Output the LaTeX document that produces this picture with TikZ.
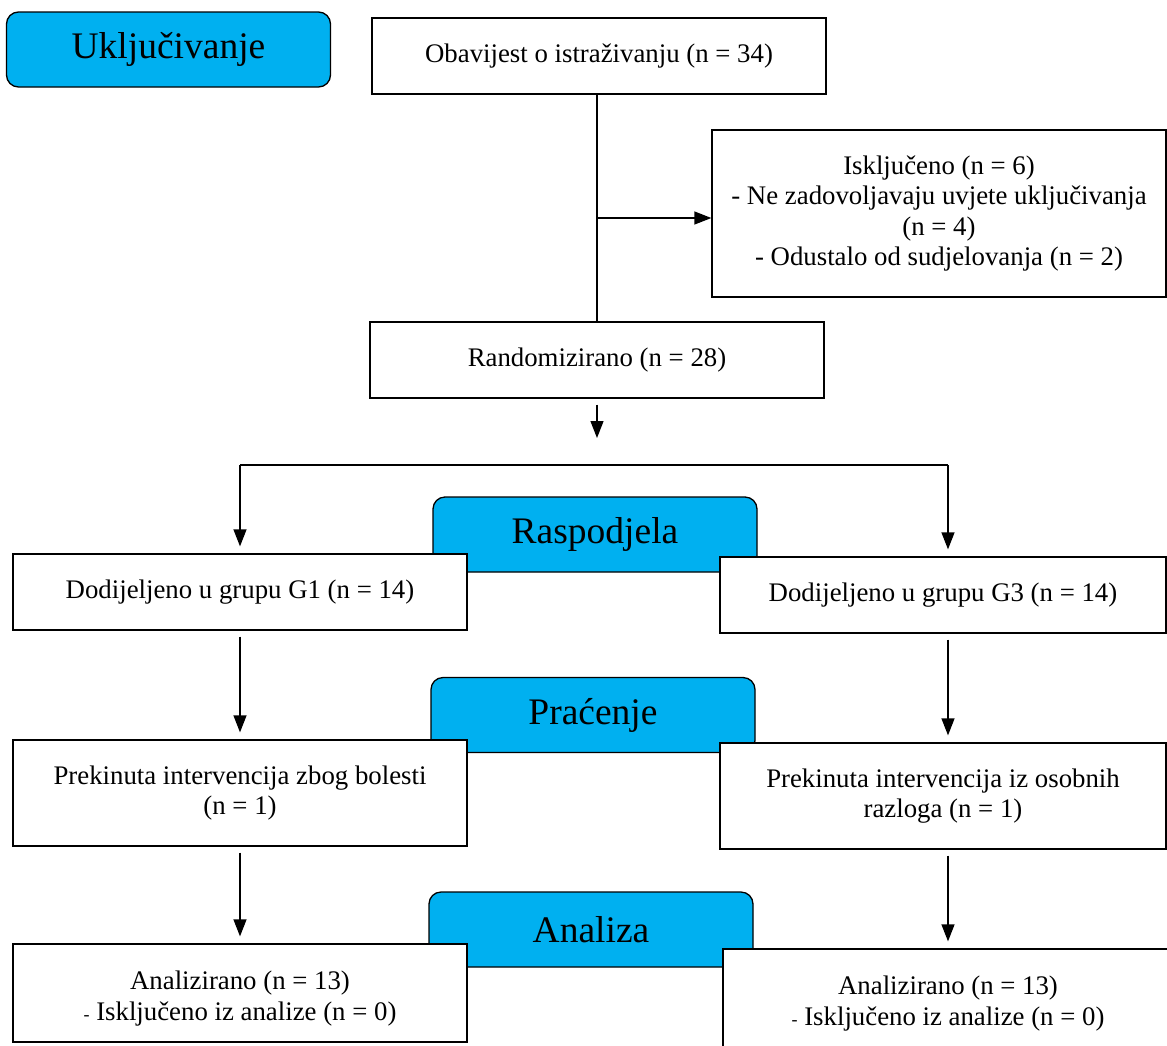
\documentclass[tikz,border=0pt]{standalone}
\usepackage{fontspec}
\setmainfont{Liberation Serif}
\usetikzlibrary{arrows.meta, positioning}
\definecolor{tabblue}{HTML}{00B0F0}

\begin{document}
\begin{tikzpicture}[x=1pt, y=-1pt,
	flowbox/.style={rectangle, draw, fill=white, line width=1.3pt, inner sep=0pt, align=center, font=\fontsize{26.8}{30.5}\selectfont},
	phasetab/.style={rectangle, rounded corners=12pt, draw, fill=tabblue, line width=1.3pt, inner sep=0pt, minimum width=324pt, minimum height=75pt, font=\fontsize{37.5}{40}\selectfont},
	arr/.style={-{Triangle[length=17pt, width=13pt]}, line width=1.3pt, shorten <=6pt, shorten >=7pt}]
	\useasboundingbox (0,0) rectangle (1167,1045);
	% phase labels (drawn first, boxes cover their lower part)
	\node[phasetab] at (168.5,49.5) (incl) {Uključivanje};
	\node[phasetab] at (595,534.5) (alloc) {Raspodjela};
	\node[phasetab] at (593,715) (follow) {Praćenje};
	\node[phasetab] at (591,929.5) (anal) {Analiza};
	% boxes
	\node[flowbox, minimum width=454pt, minimum height=76pt] at (599,56) (obav) {Obavijest o istraživanju (n = 34)};
	\node[flowbox, minimum width=454pt, minimum height=167pt] at (939,213.5) (excl) {Isključeno (n = 6)\\- Ne zadovoljavaju uvjete uključivanja\\(n = 4)\\- Odustalo od sudjelovanja (n = 2)};
	\node[flowbox, minimum width=454pt, minimum height=76pt] at (597,360) (rand) {Randomizirano (n = 28)};
	\node[flowbox, minimum width=454pt, minimum height=76pt] at (240,592) (gone) {Dodijeljeno u grupu G1 (n = 14)};
	\node[flowbox, minimum width=446pt, minimum height=76pt] at (943,595) (gthree) {Dodijeljeno u grupu G3 (n = 14)};
	\node[flowbox, minimum width=454pt, minimum height=106pt] at (240,793) (stopone) {Prekinuta intervencija zbog bolesti\\(n = 1)};
	\node[flowbox, minimum width=446pt, minimum height=106pt] at (943,796) (stopthree) {Prekinuta intervencija iz osobnih\\razloga (n = 1)};
	\node[flowbox, minimum width=454pt, minimum height=98pt, text height=60pt, text depth=6pt] at (240,993) (anone) {Analizirano (n = 13)\\{\fontsize{18}{20}\selectfont -} Isključeno iz analize (n = 0)};
	\node[flowbox, minimum width=450pt, minimum height=106pt, text height=52pt, text depth=6pt] at (948,1002) (anthree) {Analizirano (n = 13)\\{\fontsize{18}{20}\selectfont -} Isključeno iz analize (n = 0)};
	% connectors
	\coordinate (split) at (597,218);
	\coordinate (randend) at (597,438);
	\coordinate (lt) at (240,465);
	\coordinate (rt) at (948,465);
	\draw[line width=1.3pt] (split |- obav.south) -- (split |- rand.north);
	\draw[arr, shorten <=0pt, shorten >=0pt] (split) -- (split -| excl.west);
	\draw[arr, shorten >=0pt] (rand.south) -- (randend);
	\draw[line width=1.3pt] (lt) -- (rt);
	\draw[arr, shorten <=0pt] (lt) -- (gone.north);
	\draw[arr, shorten <=0pt] (rt) -- (rt |- gthree.north);
	\draw[arr] (gone.south) -- (stopone.north);
	\draw[arr] (rt |- gthree.south) -- (rt |- stopthree.north);
	\draw[arr] (stopone.south) -- (anone.north);
	\draw[arr] (rt |- stopthree.south) -- (rt |- anthree.north);
\end{tikzpicture}
\end{document}
